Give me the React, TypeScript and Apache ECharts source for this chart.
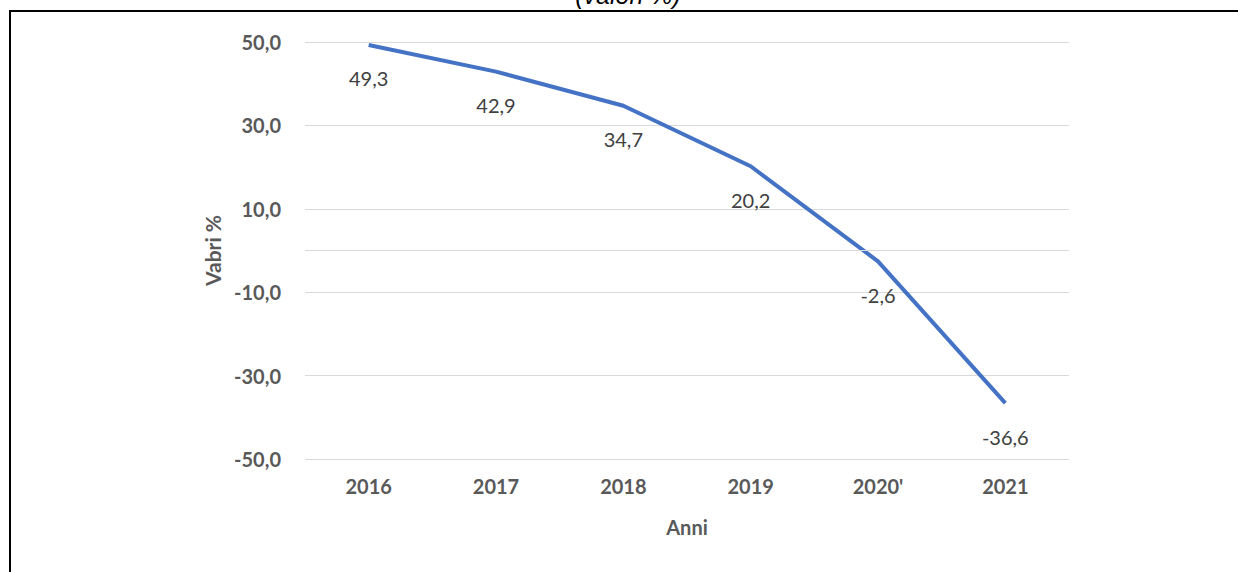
import React, { useEffect, useRef } from "react";
import * as echarts from "echarts";

const categories = ["2016", "2017", "2018", "2019", "2020'", "2021"];
const values = [49.3, 42.9, 34.7, 20.2, -2.6, -36.6];
const titleText = "(valori %)";
const yName = "Vabri %";
const xName = "Anni";

const fmt = (v: number) => v.toFixed(1).replace(".", ",");
const FONT = "Lato, 'Open Sans', sans-serif";

export default function App() {
  const ref = useRef<HTMLDivElement>(null);
  useEffect(() => {
    if (!ref.current) return;
    const chart = echarts.init(ref.current, undefined, { renderer: "svg" });
    chart.setOption({
      animation: false,
      backgroundColor: "#ffffff",
      textStyle: { fontFamily: FONT },
      grid: { left: 305, right: 169, top: 42, bottom: 113 },
      graphic: [
        {
          type: "text",
          x: 628,
          y: -5,
          style: {
            text: titleText,
            font: "italic 25px 'Liberation Sans', Arial, sans-serif",
            fill: "#000000",
            textAlign: "center",
            textVerticalAlign: "middle",
          },
        },
        {
          type: "line",
          shape: { x1: 9, y1: 11, x2: 1238, y2: 11 },
          style: { stroke: "#000000", lineWidth: 2 },
        },
        {
          type: "line",
          shape: { x1: 10, y1: 10, x2: 10, y2: 572 },
          style: { stroke: "#000000", lineWidth: 2 },
        },
      ],
      xAxis: {
        type: "category",
        data: categories,
        boundaryGap: true,
        axisLine: { show: false, onZero: false },
        axisTick: { show: false },
        axisLabel: {
          margin: 17,
          color: "#595959",
          fontWeight: "bold",
          fontSize: 20,
          fontFamily: FONT,
        },
        name: xName,
        nameLocation: "middle",
        nameGap: 58,
        nameTextStyle: {
          color: "#595959",
          fontWeight: "bold",
          fontSize: 20,
          fontFamily: FONT,
        },
      },
      yAxis: {
        type: "value",
        min: -50,
        max: 50,
        interval: 20,
        axisLine: { show: false },
        axisTick: { show: false },
        axisLabel: {
          margin: 24,
          color: "#595959",
          fontWeight: "bold",
          fontSize: 20,
          fontFamily: FONT,
          formatter: (v: number) => fmt(v),
        },
        splitLine: { lineStyle: { color: "#d9d9d9", width: 1 } },
        name: yName,
        nameLocation: "middle",
        nameGap: 80,
        nameTextStyle: {
          color: "#595959",
          fontWeight: "bold",
          fontSize: 21,
          fontFamily: FONT,
        },
      },
      series: [
        {
          type: "line",
          data: values,
          symbol: "circle",
          symbolSize: 1,
          showSymbol: true,
          lineStyle: { color: "#4472C4", width: 4 },
          itemStyle: { color: "rgba(68,114,196,0)", borderWidth: 0 },
          label: {
            show: true,
            position: "bottom",
            distance: 23,
            color: "#404040",
            fontSize: 20,
            fontFamily: FONT,
            formatter: (p: any) => fmt(p.value),
          },
          markLine: {
            silent: true,
            symbol: "none",
            label: { show: false },
            lineStyle: { color: "#d9d9d9", width: 1, type: "solid" },
            data: [{ yAxis: 0 }],
          },
        },
      ],
    });
    return () => chart.dispose();
  }, []);
  return (
    <div
      ref={ref}
      style={{ position: "fixed", left: 0, top: 0, width: 1238, height: 572 }}
    />
  );
}
